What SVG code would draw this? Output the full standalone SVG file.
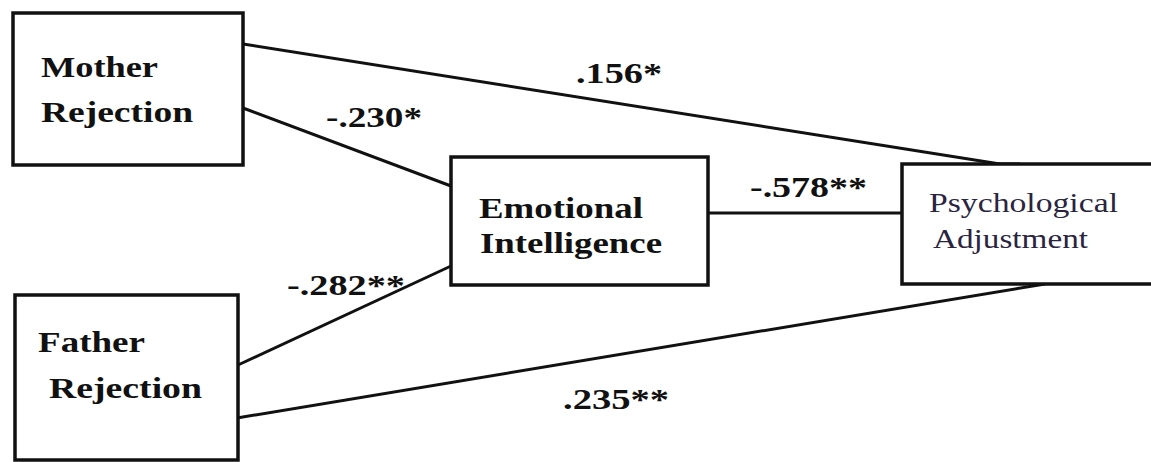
<svg xmlns="http://www.w3.org/2000/svg" width="1151" height="462" viewBox="0 0 1151 462">
<style>
.box{fill:#fff;stroke:#111;stroke-width:3.5}
.ln{stroke:#111;stroke-width:3;fill:none}
.b{font-family:"Liberation Serif","Times New Roman",serif;font-weight:bold;font-size:30px;fill:#111}
.r{font-family:"Liberation Serif","Times New Roman",serif;font-size:28px;fill:#2a2440}
</style>
<rect width="1151" height="462" fill="#fff"/>
<g id="connectors">
<line class="ln" x1="243" y1="44" x2="1000" y2="164"/>
<line class="ln" x1="1000" y1="164" x2="1020" y2="164"/>
<line class="ln" x1="243" y1="108" x2="451" y2="186"/>
<line class="ln" x1="708" y1="213" x2="902" y2="213"/>
<line class="ln" x1="238" y1="365" x2="451" y2="266"/>
<line class="ln" x1="237" y1="418" x2="1045" y2="284"/>
<text class="b" x="576" y="83" textLength="86" lengthAdjust="spacingAndGlyphs">.156*</text>
<text class="b" x="326" y="127" textLength="96" lengthAdjust="spacingAndGlyphs">-.230*</text>
<text class="b" x="750" y="197" textLength="117" lengthAdjust="spacingAndGlyphs">-.578**</text>
<text class="b" x="287" y="295" textLength="118" lengthAdjust="spacingAndGlyphs">-.282**</text>
<text class="b" x="563" y="409" textLength="106" lengthAdjust="spacingAndGlyphs">.235**</text>
</g>
<g id="mother">
<rect class="box" x="13" y="13" width="230" height="152"/>
<text class="b" x="41" y="77" textLength="117" lengthAdjust="spacingAndGlyphs">Mother</text>
<text class="b" x="41" y="122" textLength="152" lengthAdjust="spacingAndGlyphs">Rejection</text>
</g>
<g id="father">
<rect class="box" x="15" y="295" width="223" height="165"/>
<text class="b" x="38" y="352" textLength="107" lengthAdjust="spacingAndGlyphs">Father</text>
<text class="b" x="49" y="398" textLength="153" lengthAdjust="spacingAndGlyphs">Rejection</text>
</g>
<g id="emotional">
<rect class="box" x="451" y="157" width="257" height="128"/>
<text class="b" x="479" y="218" textLength="164" lengthAdjust="spacingAndGlyphs">Emotional</text>
<text class="b" x="480" y="253" textLength="182" lengthAdjust="spacingAndGlyphs">Intelligence</text>
</g>
<g id="psych">
<rect class="box" x="902" y="164" width="260" height="120"/>
<text class="r" x="929" y="212" textLength="189" lengthAdjust="spacingAndGlyphs">Psychological</text>
<text class="r" x="933" y="248" textLength="155" lengthAdjust="spacingAndGlyphs">Adjustment</text>
</g>
</svg>
